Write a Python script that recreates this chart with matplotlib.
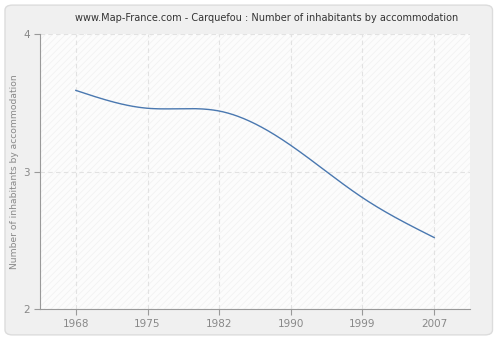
import numpy as np
import matplotlib.pyplot as plt
from matplotlib.patches import FancyBboxPatch

years = ['1968', '1975', '1982', '1990', '1999', '2007']
inhabitants = [3.59, 3.46, 3.44, 3.19, 2.81, 2.52]


def natural_spline(x, y, n=300):
    # plain natural cubic spline, just to draw a smooth curve through the points
    x = np.asarray(x, float)
    y = np.asarray(y, float)
    k = len(x)
    h = np.diff(x)
    A = np.zeros((k, k))
    r = np.zeros(k)
    A[0, 0] = A[-1, -1] = 1
    for i in range(1, k - 1):
        A[i, i - 1] = h[i - 1]
        A[i, i] = 2 * (h[i - 1] + h[i])
        A[i, i + 1] = h[i]
        r[i] = 3 * ((y[i + 1] - y[i]) / h[i] - (y[i] - y[i - 1]) / h[i - 1])
    c = np.linalg.solve(A, r)
    xs = np.linspace(x[0], x[-1], n)
    ys = np.empty_like(xs)
    for j, xv in enumerate(xs):
        i = min(np.searchsorted(x, xv, side='right') - 1, k - 2)
        dx = xv - x[i]
        b = (y[i + 1] - y[i]) / h[i] - h[i] * (2 * c[i] + c[i + 1]) / 3
        d = (c[i + 1] - c[i]) / (3 * h[i])
        ys[j] = y[i] + b * dx + c[i] * dx ** 2 + d * dx ** 3
    return xs, ys


pos = np.arange(len(years))
xs, ys = natural_spline(pos, inhabitants)

plt.rcParams['hatch.linewidth'] = 0.4

fig = plt.figure(figsize=(5, 3.4), dpi=100)
fig.patch.set_facecolor('white')
fig.patches.append(FancyBboxPatch((0.01, 0.015), 0.975, 0.97, boxstyle='round,pad=0,rounding_size=0.015',
                                  transform=fig.transFigure, facecolor='#f0f0f0', edgecolor='#dcdcdc',
                                  linewidth=1, zorder=-5))

ax = fig.add_axes([0.08, 0.091, 0.86, 0.809])
ax.set_facecolor('#fcfcfc')
ax.patch.set_hatch('/////')
ax.patch.set_edgecolor('#eeeeee')
ax.patch.set_linewidth(0)

ax.plot(xs, ys, color='#4a78b0', linewidth=1, zorder=3)

ax.set_xlim(-0.5, 5.5)
ax.set_ylim(2, 4)
ax.set_xticks(pos)
ax.set_xticklabels(years)
ax.set_yticks([2, 3, 4])
ax.grid(True, color='#e2e2e2', linestyle=(0, (4, 3)), linewidth=0.8)
ax.set_axisbelow(True)

for s in ['top', 'right']:
    ax.spines[s].set_visible(False)
for s in ['left', 'bottom']:
    ax.spines[s].set_color('#999999')
ax.tick_params(colors='#999999', labelcolor='#888888', labelsize=7.5, length=4, width=0.8)

ax.set_ylabel('Number of inhabitants by accommodation', color='#888888', fontsize=6.6)
ax.yaxis.set_label_coords(-0.049, 0.5)
fig.text(0.533, 1 - 18 / 340, 'www.Map-France.com - Carquefou : Number of inhabitants by accommodation',
         ha='center', va='center', fontsize=7, color='#333333')

fig.savefig('out.png', dpi=100)
